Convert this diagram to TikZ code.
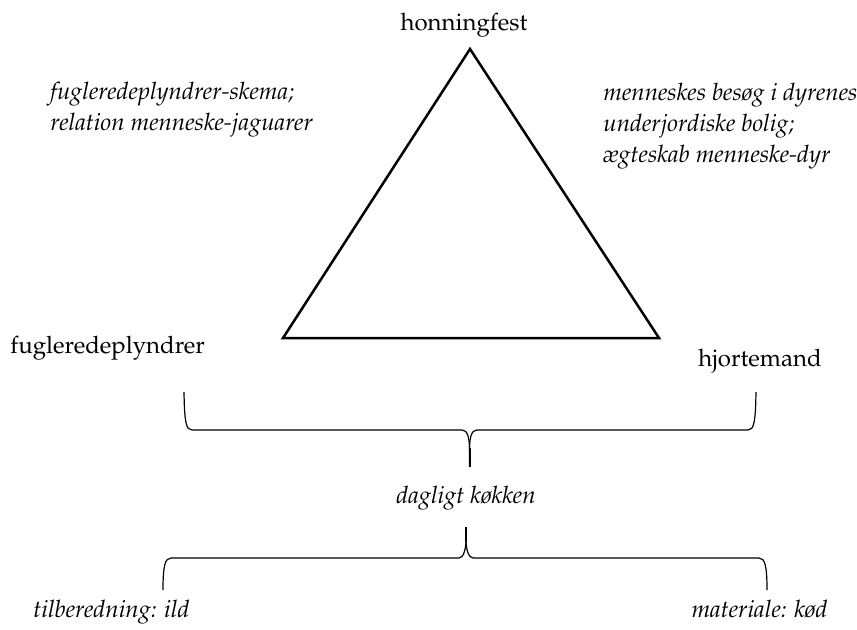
\documentclass[tikz,border=0pt]{standalone}
\usepackage[T1]{fontenc}
\usepackage{mathpazo}
\begin{document}
\begin{tikzpicture}[x=0.5pt,y=-0.5pt,
  lbl/.style={inner sep=0pt,font=\fontsize{12}{15.5}\selectfont},
  ilbl/.style={inner sep=0pt,font=\fontsize{12}{15.5}\selectfont\itshape},
  tri/.style={line width=1.25pt,line join=miter},
  brace/.style={line width=0.6pt}]
\useasboundingbox (0,0) rectangle (857,629);
% triangle
\coordinate (apex) at (470,49);
\coordinate (bl) at (283,338);
\coordinate (br) at (659,338);
\draw[tri] (apex) -- (bl) -- (br) -- cycle;
% labels
\node[lbl,anchor=base] (top) at (464,30) {honningfest};
\node[ilbl,anchor=west,align=left] (lt) at (50,110) {fugleredeplyndrer-skema;\\relation menneske-jaguarer};
\node[ilbl,anchor=west,align=left] (rt) at (603,126) {menneskes bes\o g i dyrenes\\underjordiske bolig;\\\ae gteskab menneske-dyr};
\node[lbl,anchor=base west] (fr) at (10,353) {fugleredeplyndrer};
\node[lbl,anchor=base west] (hj) at (698,366) {hjortemand};
\node[ilbl,anchor=base] (dk) at (466,503) {dagligt k\o kken};
\node[ilbl,anchor=base west] (ti) at (33,617) {tilberedning: ild};
\node[ilbl,anchor=base east] (ma) at (828,617) {materiale: k\o d};
% upper brace
\coordinate (ul) at (184,392);
\coordinate (ur) at (756,392);
\coordinate (ut) at (469.5,467);
\draw[brace] (ul) .. controls (184.5,422) and (186,430) .. (192,430) -- (462,430)
  .. controls (467,430) and (469.5,436) .. (469.5,450) -- (ut);
\draw[brace] (ur) .. controls (755.5,422) and (754,430) .. (748,430) -- (477,430)
  .. controls (472,430) and (469.5,436) .. (469.5,450);
\draw[line width=1pt] (469.5,448) -- (ut);
% lower brace
\coordinate (ll) at (163,590);
\coordinate (lr) at (767,590);
\coordinate (lt2) at (466,527);
\draw[brace] (ll) .. controls (163,566) and (165,558) .. (171,558) -- (459,558)
  .. controls (463,558) and (466,550) .. (466,540) -- (lt2);
\draw[brace] (lr) .. controls (767,566) and (765,558) .. (759,558) -- (473,558)
  .. controls (469,558) and (466,550) .. (466,540);
\draw[line width=1pt] (466,542) -- (lt2);
\end{tikzpicture}
\end{document}
